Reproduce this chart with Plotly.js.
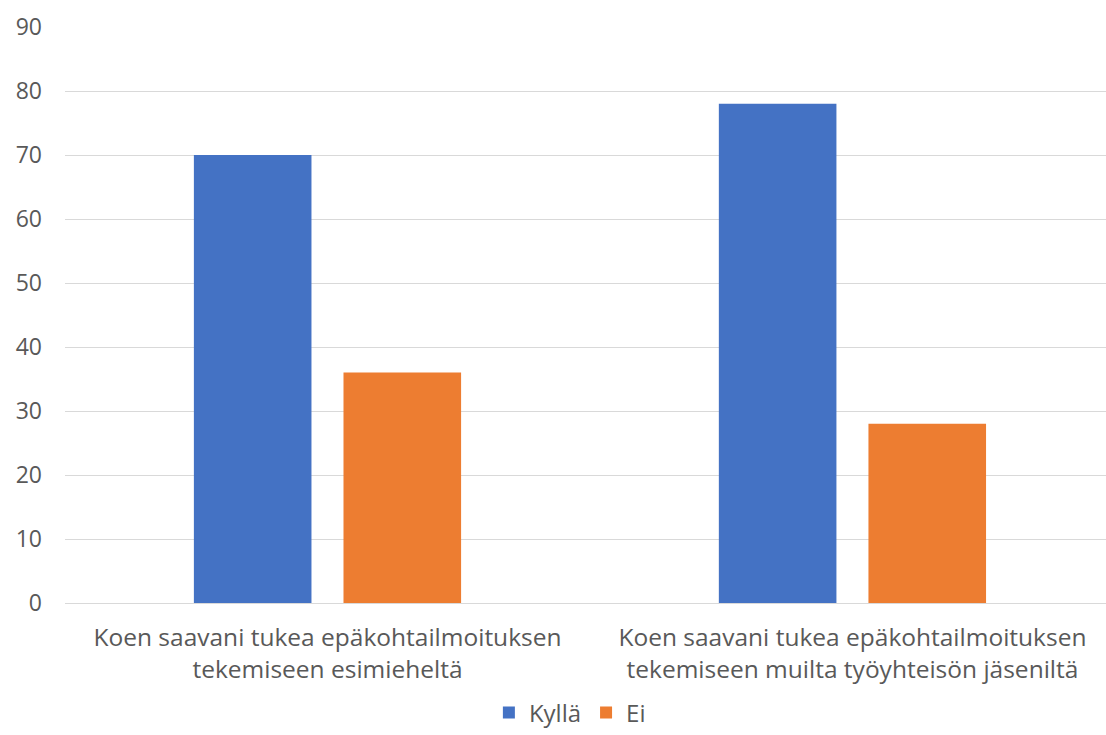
<!DOCTYPE html>
<html>
<head>
<meta charset="utf-8">
<script src="https://cdn.plot.ly/plotly-3.0.1.min.js"></script>
<style>html,body{margin:0;padding:0;background:#fff;}#chart{width:1106px;height:735px;}</style>
</head>
<body>
<div id="chart"></div>
<script>
const categories = ["Koen saavani tukea epäkohtailmoituksen<br>tekemiseen esimieheltä", "Koen saavani tukea epäkohtailmoituksen<br>tekemiseen muilta työyhteisön jäseniltä"];
const seriesNames = ["Kyllä", "Ei"];
const kylla = [70, 78];
const ei = [36, 28];
const yTicks = [0, 10, 20, 30, 40, 50, 60, 70, 80, 90];

const font = {family: "Open Sans, sans-serif", color: "#595959", size: 23};
const catFont = {family: "Open Sans, sans-serif", color: "#595959", size: 24.5};
const legFont = {family: "Open Sans, sans-serif", color: "#595959", size: 24};
const data = [
  {type: "bar", name: seriesNames[0], x: categories, y: kylla, marker: {color: "#4472C4"}},
  {type: "bar", name: seriesNames[1], x: categories, y: ei, marker: {color: "#ED7D31"}}
];
const layout = {
  width: 1106, height: 735,
  margin: {l: 65, r: 0, t: 27, b: 132},
  paper_bgcolor: "#fff", plot_bgcolor: "#fff",
  font: font,
  barmode: "group", bargap: 0.43, bargroupgap: 0.214,
  xaxis: {type: "category", range: [-0.5, 1.483], showline: true, linecolor: "#d9d9d9", linewidth: 1, ticks: "", showgrid: false, tickfont: catFont, automargin: false, ticklabelstandoff: 13},
  yaxis: {range: [0, 90], tickvals: yTicks, showgrid: true, gridcolor: "#d9d9d9", gridwidth: 1, zeroline: false, ticks: "", tickfont: font, ticklabelstandoff: 22, automargin: false},
  showlegend: true,
  legend: {orientation: "h", x: 0.485, xanchor: "center", yref: "container", y: 0.03, yanchor: "middle", font: legFont, itemwidth: 30, traceorder: "normal"}
};
Plotly.newPlot("chart", data, layout, {displayModeBar: false, staticPlot: true});
</script>
</body>
</html>
